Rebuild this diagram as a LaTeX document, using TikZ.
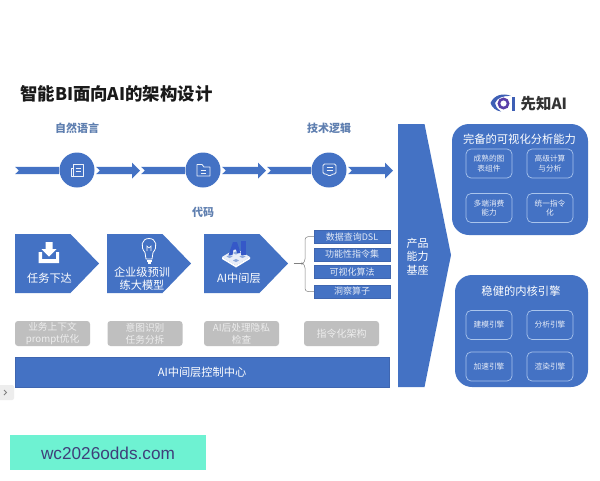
\documentclass[tikz,border=0pt]{standalone}
\usepackage{fontspec}
\setmainfont{Noto Sans CJK SC}
\newfontfamily\latinf{Liberation Sans}
\definecolor{mainblue}{HTML}{4472C4}
\definecolor{edgeblue}{HTML}{3F66B0}
\definecolor{labelblue}{HTML}{5F7FB0}
\definecolor{graybox}{HTML}{BFBFBF}
\definecolor{graytext}{HTML}{EDEDED}
\definecolor{innerline}{HTML}{A9C4EC}
\definecolor{mint}{HTML}{6EF2D2}
\definecolor{wmtext}{HTML}{3F3F7A}
\definecolor{logopurple}{HTML}{5A3FA8}
\definecolor{logoblue}{HTML}{3E5FB5}
\definecolor{aiblue}{HTML}{3558C8}
\tikzset{
 x=1pt,y=-1pt,
 bluefill/.style={fill=mainblue,draw=edgeblue,line width=.4pt},
 headlabel/.style={text=labelblue,font=\fontsize{11}{13}\selectfont\bfseries,inner sep=0pt},
 greybox/.style={fill=graybox,rounded corners=3pt,text=graytext,align=center,font=\fontsize{9.7}{12}\selectfont,inner sep=0pt},
 pentlabel/.style={text=white,align=center,inner sep=0pt,font=\fontsize{11.2}{13.5}\selectfont},
 listbox/.style={fill=mainblue,draw=edgeblue,line width=.3pt,text=white!85!mainblue,inner sep=0pt,font=\fontsize{9}{11}\selectfont},
 innerbox/.style={draw=innerline,line width=.7pt,rounded corners=5pt,text=white!88!mainblue,align=center,inner sep=0pt,font=\fontsize{7.7}{9.8}\selectfont},
 paneltitle/.style={text=white,inner sep=0pt,font=\fontsize{11.3}{14}\selectfont},
 iconline/.style={draw=white!90!mainblue,line width=.8pt,line join=round},
 circ/.style={circle,fill=mainblue,minimum size=35pt,inner sep=0pt},
}
\newcommand{\bandseg}[3]{% x0, x1 (tip), hashead
 \ifnum#3=1
 \fill[mainblue] (#1,166.8)--(#2-8,166.8)--(#2-8,162.5)--(#2,170.5)--(#2-8,178.5)--(#2-8,174.2)--(#1,174.2)--(#1+4,170.5)--cycle;
 \else
 \fill[mainblue] (#1,166.8)--(#2,166.8)--(#2,174.2)--(#1,174.2)--(#1+4,170.5)--cycle;
 \fi}
\newcommand{\pent}[1]{%
 \fill[mainblue] (#1,234)--(#1+55.5,234)--(#1+84,263.5)--(#1+55.5,293)--(#1,293)--cycle;}
\begin{document}
\begin{tikzpicture}
\useasboundingbox (0,0) rectangle (600,480);
\fill[white] (0,0) rectangle (600,480);

% title
\node[anchor=west,inner sep=0pt,text=black!90,font=\fontsize{17.4}{20}\selectfont\bfseries] (title) at (20,94) {智能BI面向AI的架构设计};

% logo
\draw[logopurple,line width=2.6pt] (503.5,103.5) circle (4.6pt);
\fill[logoblue] (490.5,103) .. controls (494,95) and (503,92.5) .. (511,96) .. controls (503,95.5) and (497,98) .. (495,103) .. controls (496,107) and (498,110) .. (501,111.5) .. controls (496,111) and (492,107.5) .. (490.5,103) -- cycle;
\fill[logoblue] (511.5,97) rectangle (515,110.5);
\node[anchor=west,inner sep=0pt,text=black!80,font=\fontsize{15.4}{17}\selectfont\bfseries] (logotext) at (520.5,104) {先知AI};

% head labels
\node[headlabel] (l1) at (77,128) {自然语言};
\node[headlabel] (l2) at (203,212) {代码};
\node[headlabel] (l3) at (329,128) {技术逻辑};

% band
\bandseg{15}{59}{0}
\bandseg{96}{140}{1}
\bandseg{141}{185}{0}
\bandseg{222}{266}{1}
\bandseg{267}{311}{0}
\bandseg{348}{393}{1}
\node[circ] (c1) at (77,170) {};
\node[circ] (c2) at (203,170) {};
\node[circ] (c3) at (329,170) {};
% icons in circles
\draw[iconline] (73,164.5) rectangle (83,176);
\draw[iconline] (73,168)--(71,168)--(71,176.5)--(76,176.5);
\draw[iconline,line width=.6pt] (75.5,168)--(80.5,168) (75.5,171)--(80.5,171);
\draw[iconline] (197,164.5)--(202,164.5)--(204,167)--(210,167)--(210,176)--(197,176)--cycle;
\draw[iconline,line width=.6pt] (200.5,170)--(206,170) (200.5,172.8)--(206,172.8);
\draw[iconline,rounded corners=1.5pt] (323,164)--(336,164)--(336,174)--(332,174)--(329.5,176.5)--(327,174)--(323,174)--cycle;
\draw[iconline,line width=.6pt] (326.5,167.5)--(332.5,167.5) (326.5,170.5)--(332.5,170.5);

% pentagons
\pent{15}\pent{107}\pent{204}
\node[pentlabel] (p1) at (49.5,278) {任务下达};
\node[pentlabel] (p2) at (142,278.5) {企业级预训\\练大模型};
\node[pentlabel] (p3) at (239,278) {AI中间层};
% download icon
\fill[white] (45.5,242)--(52.5,242)--(52.5,249)--(56.5,249)--(49,256.5)--(41.5,249)--(45.5,249)--cycle;
\fill[white] (38.5,252)--(42,252)--(42,259)--(56,259)--(56,252)--(59,252)--(59,263)--(38.5,263)--cycle;
% bulb icon
\draw[white,line width=.8pt] (146,259)--(145,252.5) .. controls (140,247) and (141.5,238.5) .. (149,238.5) .. controls (156.5,238.5) and (158,247) .. (153,252.5) -- (152,259) -- cycle;
\draw[white,line width=.6pt] (147,251)--(147,246)--(149,248)--(151,246)--(151,251);
\draw[white,line width=1.2pt] (146.5,261)--(151.5,261) (147.5,263)--(150.5,263);
% AI icon
\fill[white!88!mainblue] (222,257)--(236,248.5)--(250,257)--(236,265.5)--cycle;
\fill[white] (222,257)--(236,265.5)--(250,257)--(250,259)--(236,267.5)--(222,259)--cycle;
\foreach \a/\b in {229.5/256.5,236/253,242.5/256.5,236/260.5}{\fill[mainblue!60!white] (\a-3,\b)--(\a,\b-1.6)--(\a+3,\b)--(\a,\b+1.6)--cycle;}
\fill[aiblue] (228.5,255)--(233,242)--(237,242)--(240.5,253)--(237,253)--(236,249.5)--(233.5,249.5)--(232.5,255)--cycle;
\fill[aiblue] (241,241)--(245.5,241)--(245.5,255)--(241,255)--cycle;

% grey boxes
\node[greybox,minimum width=75pt,minimum height=25pt] (g1) at (52.5,333.5) {业务上下文\\prompt优化};
\node[greybox,minimum width=75pt,minimum height=25pt] (g2) at (145,333.5) {意图识别\\任务分拆};
\node[greybox,minimum width=75pt,minimum height=25pt] (g3) at (241.5,333.5) {AI后处理隐私\\检查};
\node[greybox,minimum width=75pt,minimum height=25pt,font=\fontsize{10}{12}\selectfont] (g4) at (341.5,333.5) {指令化架构};

% bottom bar
\node[bluefill,minimum width=374.5pt,minimum height=30pt,inner sep=0pt,text=white,font=\fontsize{11.2}{13}\selectfont] (bar) at (202,372) {AI中间层控制中心};

% list
\node[listbox,minimum width=76pt,minimum height=13pt] (d1) at (352,236.7) {数据查询DSL};
\node[listbox,minimum width=76pt,minimum height=13pt] (d2) at (352,254.3) {功能性指令集};
\node[listbox,minimum width=76pt,minimum height=13pt] (d3) at (352,271.8) {可视化算法};
\node[listbox,minimum width=76pt,minimum height=13pt] (d4) at (352,291.5) {洞察算子};
\coordinate (stub) at (293.5,263.5);
\coordinate (bmid) at (303,263.5);
\draw[black!50,line width=.5pt] (stub)--(bmid);
\draw[black!50,line width=.5pt,rounded corners=3pt] (d1.west)--(305,236.7)--(305,262)--(bmid);
\draw[black!50,line width=.5pt,rounded corners=3pt] (d4.west)--(305,291.5)--(305,265)--(bmid);

% big arrow
\fill[mainblue] (398,124)--(424.5,124)--(451,255)--(424.5,387)--(398,387)--cycle;
\node[text=white,align=center,inner sep=0pt,font=\fontsize{11}{13.5}\selectfont] (base) at (417.5,256.5) {产品\\能力\\基座};

% panels
\fill[mainblue,rounded corners=17pt] (452,124) rectangle (588,235);
\fill[mainblue,rounded corners=17pt] (455,275) rectangle (588,387);
\node[paneltitle] (t1) at (519.5,139) {完备的可视化分析能力};
\node[paneltitle] (t2) at (521,291) {稳健的内核引擎};
\node[innerbox,minimum width=46pt,minimum height=29pt] (a1) at (489,163.5) {成熟的图\\表组件};
\node[innerbox,minimum width=46pt,minimum height=29pt] (a2) at (550,163.5) {高级计算\\与分析};
\node[innerbox,minimum width=46pt,minimum height=29pt] (a3) at (489,208) {多端消费\\能力};
\node[innerbox,minimum width=46pt,minimum height=29pt] (a4) at (550,208) {统一指令\\化};
\node[innerbox,minimum width=46pt,minimum height=29pt] (b1) at (489,325) {建模引擎};
\node[innerbox,minimum width=46pt,minimum height=29pt] (b2) at (550,325) {分析引擎};
\node[innerbox,minimum width=46pt,minimum height=29pt] (b3) at (489,366.5) {加速引擎};
\node[innerbox,minimum width=46pt,minimum height=29pt] (b4) at (550,366.5) {渲染引擎};

% side tab
\fill[black!7,rounded corners=2pt] (-4,385) rectangle (14,400);
\draw[black!50,line width=.8pt] (4,390)--(6.5,392.5)--(4,395);

% watermark
\fill[mint] (10,435) rectangle (206,470);
\node[text=wmtext,inner sep=0pt,font=\latinf\fontsize{17.2}{19}\selectfont] (wm) at (108,453) {wc2026odds.com};
\end{tikzpicture}
\end{document}
